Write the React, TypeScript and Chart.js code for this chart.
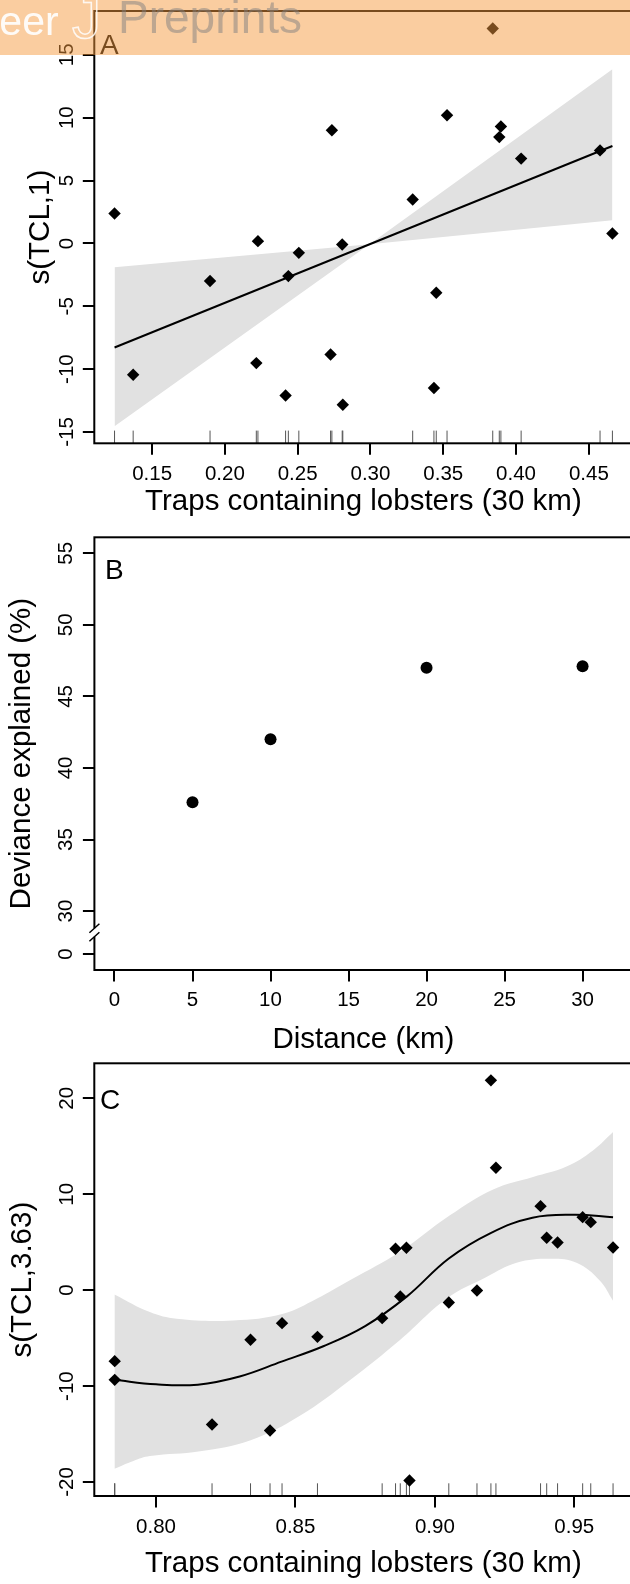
import React, { useEffect, useRef } from "react";
import { Chart, registerables } from "chart.js";

Chart.register(...registerables);

const FONT = '"Liberation Sans", Arial, Helvetica, sans-serif';
const TICK_SIZE = 20.5;
const TITLE_SIZE = 29.5;
const LETTER_SIZE = 28;
const BAND_COLOR = "#e1e1e1";
const TICK_LEN = 11.5;

// ---------------- Panel A ----------------
const aTCL = [0.1242, 0.137, 0.1898, 0.2216, 0.2227, 0.2417, 0.2436, 0.2508, 0.2726, 0.2735, 0.2806, 0.281, 0.329, 0.3436, 0.3452, 0.3526, 0.384, 0.3885, 0.3896, 0.4035, 0.4577, 0.4662];
const aS = [2.38, -10.45, -2.99, -9.52, 0.18, -12.1, -2.6, -0.75, -8.84, 9.0, -0.08, -12.83, 3.49, -11.5, -3.92, 10.2, 17.1, 8.46, 9.3, 6.75, 7.4, 0.79];
const aFitX = [0.1242, 0.4662];
const aFitY = [-8.28, 7.75];
const aBandX = [0.1242, 0.2994, 0.4662];
const aBandUpper = [-1.9, -0.06, 13.86];
const aBandLower = [-14.55, -0.06, 1.85];
const aXTicks = [0.15, 0.2, 0.25, 0.3, 0.35, 0.4, 0.45];
const aYTicks = [-15, -10, -5, 0, 5, 10, 15];
const aXRange = [0.1103, 0.48];
const aYRange = [-15.9, 18.49];

// ---------------- Panel B ----------------
const bDistance = [5, 10, 20, 30];
const bDeviance = [37.6, 42.0, 47.0, 47.1];
const bXTicks = [0, 5, 10, 15, 20, 25, 30];
const bYTicks = [0, 30, 35, 40, 45, 50, 55];
const bXRange = [-1.288, 33.2];
const bYRange = [25.88, 56.12];
const bZeroAt = 27; // broken axis: where "0" sits

// ---------------- Panel C ----------------
const cTCL = [0.7852, 0.7852, 0.8201, 0.8339, 0.8409, 0.8452, 0.8579, 0.8811, 0.8859, 0.8876, 0.8898, 0.8909, 0.905, 0.9151, 0.9201, 0.9219, 0.9379, 0.9401, 0.944, 0.953, 0.9559, 0.9639];
const cS = [-7.4, -9.35, -14.0, -5.17, -14.63, -3.44, -4.87, -2.92, 4.32, -0.66, 4.42, -19.84, -1.28, -0.03, 21.87, 12.76, 8.76, 5.46, 4.97, 7.61, 7.09, 4.45];
const cFitX = [0.7851, 0.8, 0.815, 0.83, 0.845, 0.86, 0.875, 0.89, 0.905, 0.92, 0.935, 0.95, 0.9639];
const cFitY = [-9.35, -9.82, -9.85, -9.0, -7.45, -5.85, -3.75, -0.65, 3.3, 5.95, 7.55, 7.85, 7.61];
const cUpperX = [0.7851, 0.7978, 0.8074, 0.8277, 0.8456, 0.8576, 0.87, 0.8875, 0.9054, 0.9209, 0.9352, 0.9472, 0.9567, 0.9639];
const cUpperY = [-0.45, -2.29, -2.98, -3.16, -2.46, -0.9, 1.1, 4.0, 7.8, 10.5, 11.8, 12.9, 14.57, 16.48];
const cLowerX = [0.7851, 0.7919, 0.7978, 0.8158, 0.8337, 0.8516, 0.8695, 0.8875, 0.9042, 0.9185, 0.9293, 0.9412, 0.9508, 0.9591, 0.9639];
const cLowerY = [-18.62, -17.8, -17.3, -16.8, -15.67, -13.1, -9.4, -5.2, -0.9, 1.36, 2.85, 3.27, 2.85, 1.01, -1.1];
const cXTicks = [0.8, 0.85, 0.9, 0.95];
const cYTicks = [-20, -10, 0, 10, 20];
const cXRange = [0.77788, 0.97087];
const cYRange = [-21.46, 23.65];

Chart.defaults.font.family = FONT;

const pts = (xs: number[], ys: number[]) => xs.map((x, i) => ({ x, y: ys[i] }));

function xScale(o: any) {
  return {
    type: "linear",
    position: "bottom",
    bounds: "data",
    min: o.range[0],
    max: o.range[1],
    afterBuildTicks: (s: any) => {
      s.ticks = o.ticks.map((v: number) => ({ value: v }));
    },
    afterFit: (s: any) => {
      s.height = o.height;
      s.paddingLeft = 0;
      s.paddingRight = 0;
      s.paddingTop = 0;
      s.paddingBottom = 0;
    },
    ticks: {
      autoSkip: false,
      minRotation: 0,
      maxRotation: 0,
      padding: o.pad,
      color: "#000",
      font: { family: FONT, size: TICK_SIZE },
      callback: (v: any) => o.fmt(Number(v)),
    },
    grid: {
      display: true,
      drawOnChartArea: false,
      drawTicks: true,
      tickLength: TICK_LEN,
      tickWidth: 2,
      tickColor: "#000",
      color: "#000",
      lineWidth: 2,
    },
    border: { display: false },
    title: {
      display: true,
      text: o.title,
      color: "#000",
      font: { family: FONT, size: TITLE_SIZE },
      padding: { top: 0, bottom: o.titlePad },
    },
  };
}

function yScale(o: any) {
  return {
    type: "linear",
    position: "left",
    bounds: "data",
    min: o.range[0],
    max: o.range[1],
    afterBuildTicks: (s: any) => {
      s.ticks = o.ticks.map((v: number) => ({ value: v }));
    },
    afterFit: (s: any) => {
      s.width = o.width;
      s.paddingLeft = 0;
      s.paddingRight = 0;
      s.paddingTop = 0;
      s.paddingBottom = 0;
    },
    ticks: {
      autoSkip: false,
      minRotation: 90,
      maxRotation: 90,
      crossAlign: "center",
      padding: o.pad,
      color: "#000",
      font: { family: FONT, size: TICK_SIZE },
      callback: (v: any) => o.fmt(Number(v)),
    },
    grid: {
      display: true,
      drawOnChartArea: false,
      drawTicks: true,
      tickLength: TICK_LEN,
      tickWidth: 2,
      tickColor: "#000",
      color: "#000",
      lineWidth: 2,
    },
    border: { display: false },
    title: {
      display: true,
      text: o.title,
      color: "#000",
      font: { family: FONT, size: TITLE_SIZE },
      padding: { top: o.titlePad, bottom: 0 },
    },
  };
}

const framePlugin = {
  id: "frame",
  afterDatasetsDraw(chart: any) {
    const { ctx, chartArea } = chart;
    ctx.save();
    ctx.strokeStyle = "#000";
    ctx.lineWidth = 2;
    ctx.strokeRect(chartArea.left, chartArea.top, chartArea.right - chartArea.left, chartArea.bottom - chartArea.top);
    ctx.restore();
  },
};

function letterPlugin(text: string, x: number, y: number) {
  return {
    id: "letter" + text,
    afterDatasetsDraw(chart: any) {
      const ctx = chart.ctx;
      ctx.save();
      ctx.fillStyle = "#000";
      ctx.font = `${LETTER_SIZE}px ${FONT}`;
      ctx.textBaseline = "alphabetic";
      ctx.textAlign = "left";
      ctx.fillText(text, x, y);
      ctx.restore();
    },
  };
}

const bannerPlugin = {
  id: "banner",
  afterDraw(chart: any) {
    const ctx = chart.ctx;
    ctx.save();
    ctx.fillStyle = "rgba(245,153,61,0.49)";
    ctx.fillRect(0, 0, 640, 55);
    ctx.textBaseline = "alphabetic";
    ctx.textAlign = "left";
    ctx.font = `41px ${FONT}`;
    ctx.fillStyle = "rgba(255,255,255,0.92)";
    ctx.fillText("Peer", -28, 35);
    ctx.font = `58px ${FONT}`;
    ctx.strokeStyle = "rgba(255,255,255,0.85)";
    ctx.lineWidth = 1.5;
    ctx.strokeText("J", 72, 38);
    ctx.font = `46px ${FONT}`;
    ctx.fillStyle = "rgba(128,128,128,0.5)";
    ctx.fillText("Preprints", 118, 33);
    ctx.restore();
  },
};

const breakPlugin = {
  id: "axisBreak",
  afterDraw(chart: any) {
    const { ctx, chartArea } = chart;
    const yS = chart.scales.y;
    const x = chartArea.left;
    const y1 = yS.getPixelForValue(28.8);
    const y2 = yS.getPixelForValue(28.2);
    ctx.save();
    ctx.fillStyle = "#fff";
    ctx.fillRect(x - 2, y1, 4, y2 - y1);
    ctx.strokeStyle = "#000";
    ctx.lineWidth = 1.5;
    ctx.beginPath();
    for (const y of [y1, y2]) {
      ctx.moveTo(x - 5, y + 4.5);
      ctx.lineTo(x + 5, y - 4.5);
    }
    ctx.stroke();
    ctx.restore();
  },
};

const baseOptions = (padding: any, scales: any) => ({
  animation: false,
  responsive: false,
  devicePixelRatio: 1,
  events: [],
  layout: { padding, autoPadding: false },
  plugins: { legend: { display: false }, tooltip: { enabled: false }, title: { display: false } },
  scales,
});

const diamondSet = (xs: number[], ys: number[]) => ({
  label: "points",
  data: pts(xs, ys),
  showLine: false,
  pointStyle: "rectRot",
  pointRadius: 6.2,
  pointHoverRadius: 0,
  pointBackgroundColor: "#000",
  pointBorderColor: "#000",
  pointBorderWidth: 0,
});

const rugSet = (xs: number[], yMin: number) => ({
  label: "rug",
  data: xs.map((x) => ({ x, y: yMin })),
  showLine: false,
  pointStyle: "line",
  pointRotation: 90,
  pointRadius: 12.7,
  pointHoverRadius: 0,
  pointBorderColor: "#555",
  pointBackgroundColor: "rgba(0,0,0,0)",
  pointBorderWidth: 1,
  clip: 0,
});

const lineSet = (xs: number[], ys: number[], smooth: boolean) => ({
  label: "fit",
  data: pts(xs, ys),
  borderColor: "#000",
  borderWidth: 2,
  pointRadius: 0,
  fill: false,
  tension: smooth ? 0.4 : 0,
});

const bandSet = (xs: number[], ys: number[], fill: any, smooth: boolean) => ({
  label: "band",
  data: pts(xs, ys),
  borderColor: "rgba(0,0,0,0)",
  borderWidth: 0,
  pointRadius: 0,
  backgroundColor: BAND_COLOR,
  fill,
  tension: smooth ? 0.4 : 0,
});

function buildA(): any {
  return {
    type: "line",
    data: {
      datasets: [
        diamondSet(aTCL, aS),
        rugSet(aTCL, aYRange[0]),
        lineSet(aFitX, aFitY, false),
        bandSet(aBandX, aBandUpper, "+1", false),
        bandSet(aBandX, aBandLower, false, false),
      ],
    },
    options: baseOptions(
      { left: 0, top: 11, right: 7.5, bottom: 0 },
      {
        x: xScale({ range: aXRange, ticks: aXTicks, fmt: (v: number) => v.toFixed(2), pad: 7.1, title: "Traps containing lobsters (30 km)", titlePad: 0.3, height: 76.7 }),
        y: yScale({ range: aYRange, ticks: aYTicks, fmt: (v: number) => String(v), pad: 0.5, title: "s(TCL,1)", titlePad: 22.8, width: 94.3 }),
      }
    ),
    plugins: [framePlugin, letterPlugin("A", 100, 53.5), bannerPlugin],
  };
}

function buildB(): any {
  return {
    type: "line",
    data: {
      datasets: [
        {
          label: "deviance",
          data: pts(bDistance, bDeviance),
          showLine: false,
          pointStyle: "circle",
          pointRadius: 6,
          pointHoverRadius: 0,
          pointBackgroundColor: "#000",
          pointBorderColor: "#000",
          pointBorderWidth: 0,
        },
      ],
    },
    options: baseOptions(
      { left: 0, top: 17.3, right: 7.5, bottom: 0 },
      {
        x: xScale({ range: bXRange, ticks: bXTicks, fmt: (v: number) => String(v), pad: 6.2, title: "Distance (km)", titlePad: 2.0, height: 90 }),
        y: yScale({
          range: bYRange,
          ticks: bYTicks.map((v) => (v === 0 ? bZeroAt : v)),
          fmt: (v: number) => (v === bZeroAt ? "0" : String(v)),
          pad: 5.2,
          title: "Deviance explained (%)",
          titlePad: 4.3,
          width: 94.4,
        }),
      }
    ),
    plugins: [framePlugin, letterPlugin("B", 105, 59), breakPlugin],
  };
}

function buildC(): any {
  return {
    type: "line",
    data: {
      datasets: [
        diamondSet(cTCL, cS),
        rugSet(cTCL, cYRange[0]),
        lineSet(cFitX, cFitY, true),
        bandSet(cUpperX, cUpperY, "+1", true),
        bandSet(cLowerX, cLowerY, false, true),
      ],
    },
    options: baseOptions(
      { left: 0, top: 3.3, right: 7.5, bottom: 0 },
      {
        x: xScale({ range: cXRange, ticks: cXTicks, fmt: (v: number) => v.toFixed(2), pad: 7.2, title: "Traps containing lobsters (30 km)", titlePad: 2.6, height: 88 }),
        y: yScale({ range: cYRange, ticks: cYTicks, fmt: (v: number) => String(v), pad: 0.8, title: "s(TCL,3.63)", titlePad: 4.8, width: 94.3 }),
      }
    ),
    plugins: [framePlugin, letterPlugin("C", 100, 49)],
  };
}

function ChartCanvas({ top, height, build }: { top: number; height: number; build: () => any }) {
  const ref = useRef<HTMLCanvasElement>(null);
  useEffect(() => {
    const chart = new Chart(ref.current as HTMLCanvasElement, build());
    return () => chart.destroy();
  }, []);
  return (
    <canvas
      ref={ref}
      width={640}
      height={height}
      style={{ position: "absolute", left: 0, top, width: 640, height, display: "block" }}
    />
  );
}

export default function App() {
  return (
    <div
      style={{
        position: "fixed",
        left: 0,
        top: 0,
        width: 630,
        height: 1584,
        overflow: "hidden",
        background: "#fff",
      }}
    >
      <ChartCanvas top={0} height={520} build={buildA} />
      <ChartCanvas top={520} height={540} build={buildB} />
      <ChartCanvas top={1060} height={524} build={buildC} />
    </div>
  );
}
